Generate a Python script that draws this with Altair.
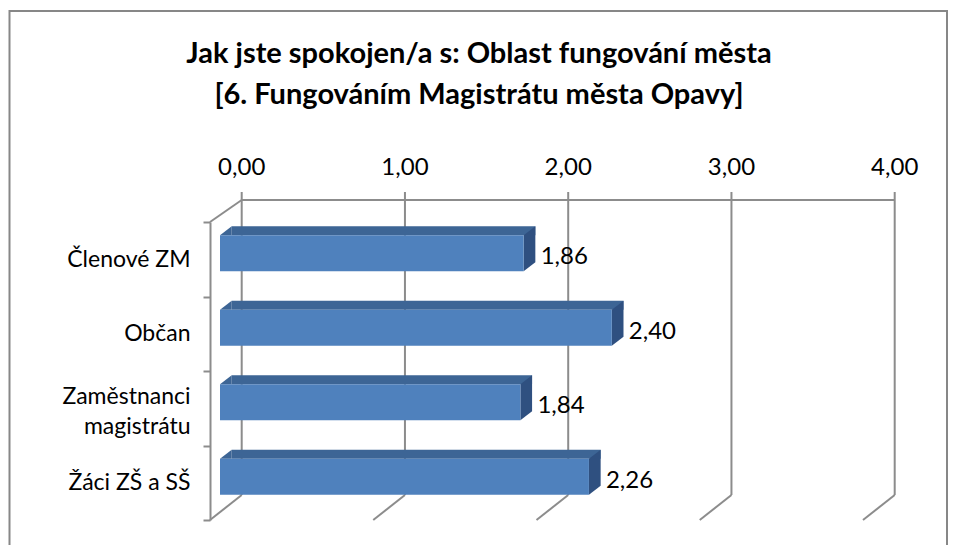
import altair as alt
import pandas as pd

# ---- data ----
categories = ["Členové ZM", "Občan", "Zaměstnanci magistrátu", "Žáci ZŠ a SŠ"]
values = [1.86, 2.40, 1.84, 2.26]
tick_values = [0, 1, 2, 3, 4]
title_lines = ["Jak jste spokojen/a s: Oblast fungování města",
               "[6. Fungováním Magistrátu města Opavy]"]

df = pd.DataFrame({"cat": categories, "val": values, "zero": [0.0] * len(values)})
df["label"] = [f"{v:.2f}".replace(".", ",") for v in values]
ticks = pd.DataFrame({"u": tick_values})
ticks["label"] = [f"{v:.2f}".replace(".", ",") for v in tick_values]
title_df = pd.DataFrame({"t": [0]})

# ---- styling ----
FONT = "Lato"
GRAY = "#8c8c8c"
FRONT = "#4f81bd"
TOP = "#3d6595"
SIDE = "#2f5080"
W, H = 653, 298
BACK = 21.7      # x shift of the back wall
FRONTW = -10     # x shift of the front wall
DEPTH_X, DEPTH_Y = 11.7, 9   # bar depth
BAR = 36
BAR_OFF = -6

xscale = alt.Scale(domain=[0, 4], nice=False, zero=True)
yscale = alt.Scale(domain=categories, paddingInner=0, paddingOuter=0)

y_axis = alt.Axis(orient="left", title=None, offset=10,
                  domainColor=GRAY, domainWidth=2,
                  tickColor=GRAY, tickWidth=2, tickSize=7, tickBand="extent",
                  labelFont=FONT, labelFontSize=23, labelColor="black",
                  labelPadding=13, labelLimit=400, labelLineHeight=30,
                  labelOffset={"condition": {"test": "datum.label == 'Zaměstnanci magistrátu'",
                                             "value": -12}, "value": 0},
                  labelExpr="datum.label == 'Zaměstnanci magistrátu' ? ['Zaměstnanci', 'magistrátu'] : datum.label",
                  grid=False)

X = lambda f: alt.X(f, type="quantitative", scale=xscale, axis=None)

# x tick labels, centred on the back-wall gridlines
tick_labels = alt.Chart(ticks).mark_text(
    xOffset=BACK, baseline="middle", align="center",
    font=FONT, fontSize=24, color="black").encode(
    x=X("u"), y=alt.value(-54), text="label:N")

grid_back = alt.Chart(ticks).mark_rule(color=GRAY, strokeWidth=2, xOffset=BACK).encode(
    x=X("u"), y=alt.value(-30), y2=alt.value(273))

top_edge = alt.Chart(ticks).mark_rule(color=GRAY, strokeWidth=2, xOffset=BACK, x2Offset=BACK).encode(
    x=alt.X("min(u):Q", scale=xscale, axis=None), x2=alt.X2("max(u)"),
    y=alt.value(-22))

floor = alt.Chart(ticks).mark_rule(color=GRAY, strokeWidth=2, xOffset=BACK, x2Offset=FRONTW).encode(
    x=X("u"), x2=alt.X2("u"), y=alt.value(273), y2=alt.value(H))

left_diag = alt.Chart(ticks).transform_filter("datum.u == 0").mark_rule(
    color=GRAY, strokeWidth=2, xOffset=FRONTW, x2Offset=BACK).encode(
    x=X("u"), x2=alt.X2("u"), y=alt.value(0), y2=alt.value(-22))

Y = alt.Y("cat:N", scale=yscale, sort=categories, axis=y_axis)

top_strip = alt.Chart(df).mark_bar(color=TOP, size=DEPTH_Y, xOffset=DEPTH_X, x2Offset=DEPTH_X,
                                   yOffset=BAR_OFF - BAR / 2 - DEPTH_Y / 2).encode(
    x=X("val"), y=Y)

left_tri = alt.Chart(df).mark_point(
    shape=f"M0,{-BAR/2} L{DEPTH_X},{-BAR/2-DEPTH_Y} L{DEPTH_X},{-BAR/2} Z",
    size=4, filled=True, fill=TOP, opacity=1, strokeWidth=0, yOffset=BAR_OFF).encode(
    x=X("zero"), y=Y)

side = alt.Chart(df).mark_point(
    shape=f"M0,{-BAR/2} L{DEPTH_X},{-BAR/2-DEPTH_Y} L{DEPTH_X},{BAR/2-DEPTH_Y} L0,{BAR/2} Z",
    size=4, filled=True, fill=SIDE, opacity=1, strokeWidth=0, yOffset=BAR_OFF).encode(
    x=X("val"), y=Y)

front = alt.Chart(df).mark_bar(color=FRONT, size=BAR, yOffset=BAR_OFF).encode(
    x=X("val"), y=Y)

labels = alt.Chart(df).mark_text(align="left", baseline="middle", dx=17, yOffset=BAR_OFF + 4,
                                 font=FONT, fontSize=24, color="black").encode(
    x=X("val"), y=Y, text="label:N")

title = alt.Chart(title_df).mark_text(
    align="center", baseline="alphabetic", font=FONT, fontSize=29, fontWeight="bold",
    color="black", lineHeight=41).encode(
    x=alt.value(259), y=alt.value(-159), text=alt.value(title_lines))

border = alt.Chart(title_df).mark_rect(
    fillOpacity=0, stroke="#878787", strokeWidth=2).encode(
    x=alt.value(-210.5), x2=alt.value(727), y=alt.value(-211), y2=alt.value(340))

chart = alt.layer(
    border, title, tick_labels, grid_back, top_edge, floor, left_diag,
    top_strip, left_tri, side, front, labels
).properties(
    width=W, height=H,
    padding={"left": 212, "top": 214, "right": 76, "bottom": 25},
    autosize=alt.AutoSizeParams(type="none"),
).configure_view(stroke=None)

chart.save("out.html", embed_options={"renderer": "svg", "actions": False})
